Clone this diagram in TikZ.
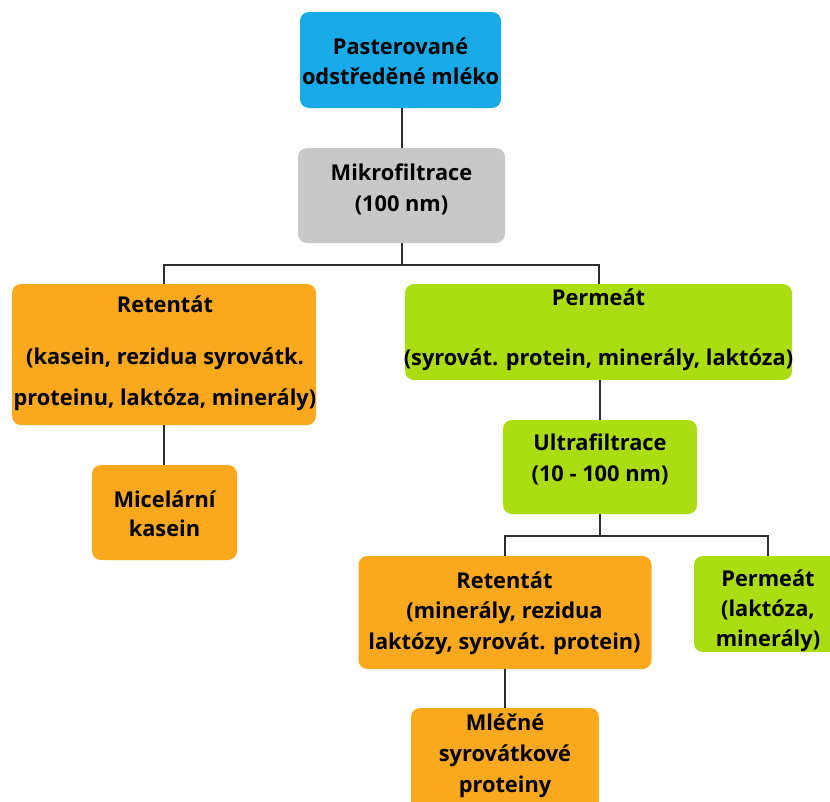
\documentclass[tikz,border=0pt]{standalone}
\usepackage{fontspec}
\setmainfont{Open Sans}
\definecolor{cblue}{RGB}{24,170,233}
\definecolor{cgrey}{RGB}{200,200,200}
\definecolor{corange}{RGB}{250,168,30}
\definecolor{cgreen}{RGB}{170,222,18}
\definecolor{cline}{RGB}{45,45,45}
\newcommand{\fnt}[1]{\bfseries\fontsize{21.8}{#1}\selectfont}
\begin{document}
\begin{tikzpicture}[x=1pt,y=-1pt,
  box/.style={rounded corners=9pt, inner sep=0pt, align=center, anchor=center},
  txt/.style={font=\fnt{31}, align=center, inner sep=0pt},
  conn/.style={draw=cline, line width=2pt}]
\useasboundingbox (0,0) rectangle (830,801);
\clip (0,0) rectangle (830,801);
% boxes
\node[box, fill=cblue, minimum width=201pt, minimum height=96pt] (past) at (400.5,60) {};
\node[txt, font=\fnt{30}] (pastt) at (400.5,61) {Pasterované\\odstředěné mléko};
\node[box, fill=cgrey, minimum width=207pt, minimum height=95pt] (mikro) at (401.5,195.5) {};
\node[txt] (mikrot) at (401.5,189) {Mikrofiltrace\\(100 nm)};
\node[box, fill=corange, minimum width=304pt, minimum height=141pt] (ret1) at (164,354.5) {};
\node[txt, font=\fnt{41}] (ret1t) at (165,353) {Retentát\\[11pt](kasein, rezidua syrovátk.\\proteinu, laktóza, minerály)};
\node[box, fill=cgreen, minimum width=387pt, minimum height=96pt] (perm1) at (598.5,332) {};
\node[txt, font=\fnt{60}] (perm1t) at (598.5,330) {Permeát\\(syrovát. protein, minerály, laktóza)};
\node[box, fill=cgreen, minimum width=194pt, minimum height=94pt] (ultra) at (600,467) {};
\node[txt] (ultrat) at (600,459) {Ultrafiltrace\\(10 - 100 nm)};
\node[box, fill=corange, minimum width=145pt, minimum height=95pt] (micel) at (164.5,512.5) {};
\node[txt, font=\fnt{29}] (micelt) at (164.5,514) {Micelární\\kasein};
\node[box, fill=corange, minimum width=293pt, minimum height=113pt] (ret2) at (505,612.5) {};
\node[txt, font=\fnt{30.5}] (ret2t) at (504.5,613) {Retentát\\(minerály, rezidua\\laktózy, syrovát. protein)};
\node[box, fill=cgreen, minimum width=160pt, minimum height=96pt] (perm2) at (774,604) {};
\node[txt, font=\fnt{30}] (perm2t) at (768,611) {Permeát\\(laktóza,\\minerály)};
\node[box, fill=corange, minimum width=188pt, minimum height=112pt] (mlec) at (505,764) {};
\node[txt, font=\fnt{31}] (mlect) at (505,756) {Mléčné\\syrovátkové\\proteiny};
% connectors
\coordinate (j1) at (401.5,265);
\coordinate (j2) at (600,536);
\draw[conn] (past.south -| mikro.north) -- (mikro.north);
\draw[conn] (mikro.south) -- (j1);
\draw[conn] (ret1.north) |- (j1) -| (perm1.north);
\draw[conn] (ret1.south) -- (ret1.south |- micel.north);
\draw[conn] (perm1.south -| ultra.north) -- (ultra.north);
\draw[conn] (ultra.south) -- (j2);
\draw[conn] (ret2.north) |- (j2) -| (perm2t.north |- perm2.north);
\draw[conn] (ret2.south) -- (mlec.north);
\end{tikzpicture}
\end{document}
